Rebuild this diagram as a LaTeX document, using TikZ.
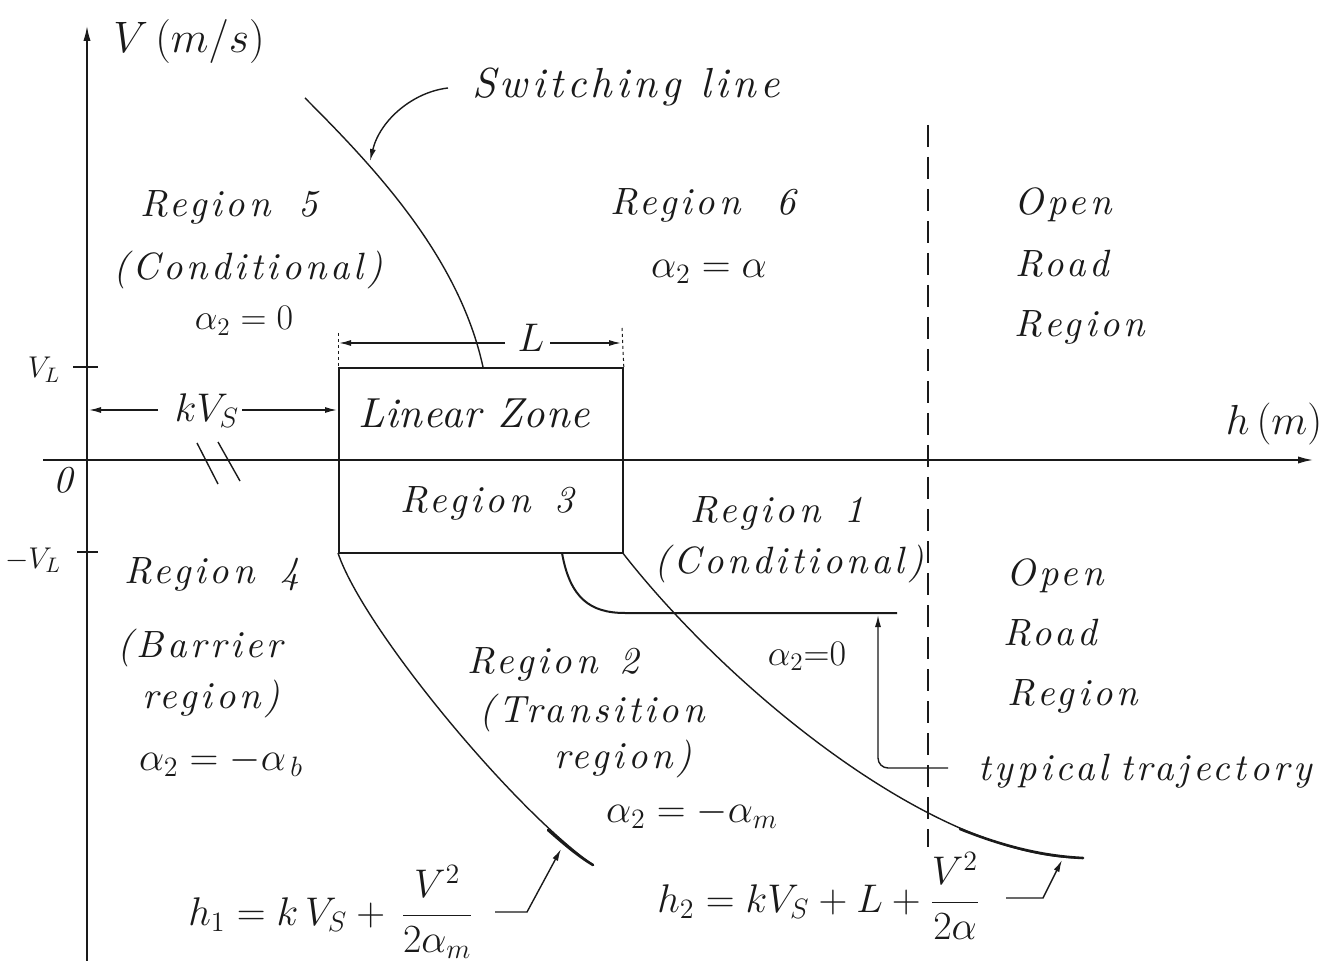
\RequirePackage{fix-cm}
\documentclass[tikz,border=0pt]{standalone}
\usepackage{fontspec}
\newfontfamily\handfont{lmroman10-italic.otf}
\usetikzlibrary{arrows.meta}
\definecolor{ink}{HTML}{1A1A1A}
\tikzset{
  axisline/.style={ink,line width=1.1pt,-{Latex[length=8pt,width=3.6pt]}},
  dimline/.style={ink,line width=0.7pt,-{Latex[length=6pt,width=3pt]}},
  bound/.style={ink,line width=0.7pt},
  heavy/.style={ink,line width=1.3pt,line cap=round},
  hw/.style={ink,inner sep=0pt,anchor=base,font=\handfont\fontsize{19}{22}\selectfont\addfontfeature{LetterSpace=10}},
  hwbig/.style={ink,inner sep=0pt,anchor=base,font=\handfont\fontsize{21}{25}\selectfont\addfontfeature{LetterSpace=#1}},
  mth/.style={ink,inner sep=0pt,anchor=base,font=\fontsize{#1}{#1}\selectfont},
  extline/.style={ink,line width=0.5pt,dash pattern=on 1.5pt off 1.5pt},
  roadline/.style={ink,line width=0.8pt,dash pattern=on 11pt off 5pt},
}
\begin{document}
\begin{tikzpicture}[x=0.5pt,y=-0.5pt]
\useasboundingbox (0,0) rectangle (1336,961);
\fill[white] (0,0) rectangle (1336,961);

% ---- axes
\coordinate (vbot) at (87,961);
\coordinate (vtop) at (87,25);
\coordinate (hleft) at (43,460);
\coordinate (hright) at (1314,460);
\draw[axisline] (vbot) -- (vtop);
\draw[axisline] (hleft) -- (hright);

% axis break marks
\coordinate (ba1) at (197,443); \coordinate (bb1) at (218,484);
\coordinate (ba2) at (218,442); \coordinate (bb2) at (240,481);
\draw[bound] (ba1) -- (bb1);
\draw[bound] (ba2) -- (bb2);

% ticks
\coordinate (tv1) at (73,367); \coordinate (tv2) at (98,367);
\coordinate (tm1) at (77,552); \coordinate (tm2) at (98,552);
\draw[bound] (tv1) -- (tv2);
\draw[bound] (tm1) -- (tm2);

% axis labels
\node[mth=22] (Vax) at (189,53) {$V\,(m/s)$};
\node[mth=21] (hax) at (1274,435) {$h\,(m)$};
\node[mth=15] (VL) at (44,378) {$V_L$};
\node[mth=15] (mVL) at (33,568) {$-V_L$};
\node[hw] (zero) at (63,493) {0};

% ---- linear zone box
\node[draw=ink,line width=0.9pt,minimum width=142pt,minimum height=92.5pt,inner sep=0pt,anchor=north west] (box) at (338,367) {};
\node[hwbig=2] (lz) at (474,428) {Linear Zone};
\node[hw] (r3) at (487,513) {Region\hspace{12pt}3};

% ---- L dimension
\coordinate (eL1) at (338,333); \coordinate (eL2) at (622,328);
\draw[extline] (eL1) -- (box.north west);
\draw[extline] (eL2) -- (box.north east);
\node[mth=20] (Llab) at (531,352) {$L$};
\coordinate (Lsl) at (505,343); \coordinate (Ll) at (339,343);
\coordinate (Lsr) at (550,343); \coordinate (Lr) at (621,343);
\draw[dimline] (Lsl) -- (Ll);
\draw[dimline] (Lsr) -- (Lr);

% ---- kV_S dimension
\node[mth=20] (kvs) at (207,422) {$kV_S$};
\coordinate (kl) at (89,410); \coordinate (ksl) at (158,410);
\coordinate (ksr) at (242,410); \coordinate (kr) at (337,410);
\draw[dimline] (ksl) -- (kl);
\draw[dimline] (ksr) -- (kr);

% ---- switching line
\coordinate (sw0) at (305,98); \coordinate (sw1) at (483,367);
\draw[bound] (sw0) .. controls (375,168) and (459,257) .. (sw1);
\node[hwbig=10] (swl) at (626,98) {Switching\hspace{10pt}line};
\coordinate (swA) at (448,88); \coordinate (swB) at (370,161);
\draw[dimline] (swA) .. controls (413,92) and (380,120) .. (swB);

% ---- h1 boundary curve
\coordinate (c10) at (338,553); \coordinate (c11) at (593,865);
\draw[bound] (c10) .. controls (363,628) and (513,809) .. (c11);
\draw[heavy] (548,830) .. controls (565,845) and (578,856) .. (c11);

% ---- h2 boundary curve
\coordinate (c20) at (622,552); \coordinate (c21) at (1083,858);
\draw[bound] (c20) .. controls (727,687) and (933,858) .. (c21);
\draw[heavy] (960,829) .. controls (1000,845) and (1040,856) .. (c21);

% ---- typical trajectory
\coordinate (tt0) at (562,553); \coordinate (tt1) at (625,613); \coordinate (tt2) at (897,613);
\draw[ink,line width=1pt] (tt0) .. controls (570,598) and (590,613) .. (tt1) -- (tt2);
\node[hw] (ttl) at (1145,780) {typical\hspace{6pt}trajectory};
\coordinate (ttA) at (948,768); \coordinate (ttB) at (878,768); \coordinate (ttC) at (878,615);
\draw[dimline,rounded corners=5pt] (ttA) -- (ttB) -- (ttC);

% ---- open road boundary
\coordinate (rd1) at (928,125); \coordinate (rd2) at (928,847);
\draw[roadline] (rd1) -- (rd2);

% ---- region labels
\node[hw] (r5) at (229,217) {Region\hspace{14pt}5};
\node[hw] (c5) at (248,280) {(Conditional)};
\node[mth=18] (a5) at (244,330) {$\alpha_2 = 0$};

\node[hw] (r6) at (703,215) {Region\hspace{18pt}6};
\node[mth=20] (a6) at (709,278) {$\alpha_2 = \alpha$};

\node[hw] (o1) at (1063,215) {Open};
\node[hw] (o2) at (1062,277) {Road};
\node[hw] (o3) at (1080,337) {Region};

\node[hw] (r1) at (777,523) {Region\hspace{12pt}1};
\node[hw] (c1) at (789,573) {(Conditional)};
\node[mth=18] (a1) at (807,665) {$\alpha_2{=}0$};

\node[hw] (p1) at (1055,585) {Open};
\node[hw] (p2) at (1050,645) {Road};
\node[hw] (p3) at (1073,705) {Region};

\node[hw] (r4) at (212,583) {Region\hspace{13pt}4};
\node[hw] (b4) at (200,657) {(Barrier};
\node[hw] (g4) at (211,708) {region)};
\node[mth=20] (a4) at (221,770) {$\alpha_2 = -\alpha_{\,b}$};

\node[hw] (r2) at (553,673) {Region\hspace{11pt}2};
\node[hw] (t2) at (592,722) {(Transition};
\node[hw] (g2) at (623,768) {region)};
\node[mth=20] (a2) at (692,822) {$\alpha_2 = -\alpha_m$};

% ---- formulas
\node[mth=20,anchor=base west] (h1) at (188,925) {$h_1 = k\,V_S +\, {\displaystyle\frac{V^2}{2\alpha_m}}$};
\coordinate (h1a) at (495,912); \coordinate (h1b) at (527,912); \coordinate (h1c) at (561,849);
\draw[dimline] (h1a) -- (h1b) -- (h1c);

\node[mth=20,anchor=base west] (h2) at (657,912) {$h_2 = kV_S + L + {\displaystyle\frac{V^2}{2\alpha}}$};
\coordinate (h2a) at (1006,898); \coordinate (h2b) at (1043,898); \coordinate (h2c) at (1062,860);
\draw[dimline] (h2a) -- (h2b) -- (h2c);
\end{tikzpicture}
\end{document}
